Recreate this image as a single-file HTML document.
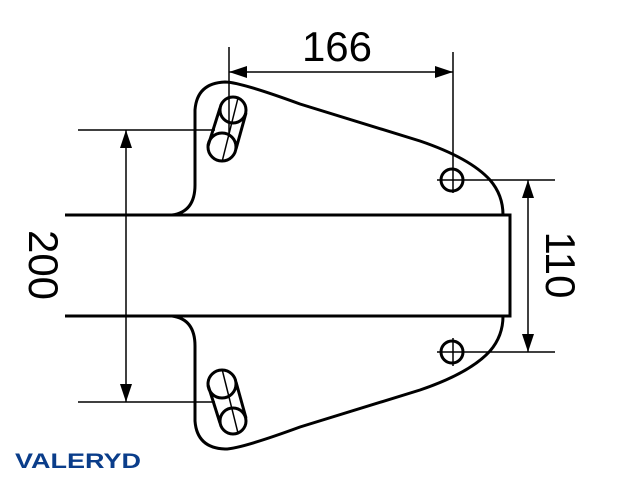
<!DOCTYPE html><html><head><style>body{margin:0;background:#fff}</style></head><body>
<svg width="640" height="480" viewBox="0 0 640 480" xmlns="http://www.w3.org/2000/svg">
<defs>
<marker id="b" viewBox="0 0 18 12" markerWidth="18" markerHeight="12" refX="18" refY="6" orient="auto-start-reverse" markerUnits="userSpaceOnUse"><path d="M0,0 L18,6 L0,12z" fill="#000"/></marker></defs>
<g fill="none" stroke="#000" stroke-width="3">
<path d="M172,215 Q195,212 195,185 L195,110 Q197,83 225,82 Q240,82 300,104 L420,141 Q470,158 490,180 Q503,195 503,215"/>
<path d="M172,316 Q195,319 195,346 L195,421 Q197,448 225,449 Q240,449 300,427 L420,390 Q470,373 490,351 Q503,336 503,316"/>
<path d="M65,215 L510,215 L510,316 L65,316"/>
<circle cx="233" cy="110" r="13"/><circle cx="222" cy="147" r="14"/>
<line x1="220" y1="108" x2="208" y2="146"/><line x1="246" y1="113" x2="236" y2="149"/>
<circle cx="222" cy="384" r="14"/><circle cx="233" cy="421" r="13"/>
<line x1="208" y1="385" x2="220" y2="423"/><line x1="236" y1="382" x2="246" y2="418"/>
<circle cx="452" cy="180" r="11"/><circle cx="452" cy="352" r="11"/>
</g>
<g stroke="#000" stroke-width="1.5" fill="none">
<line x1="238" y1="98" x2="222" y2="162"/><line x1="222" y1="369" x2="238" y2="433"/>
<line x1="229" y1="47" x2="229" y2="135"/><line x1="453" y1="52" x2="453" y2="193"/>
<line x1="437" y1="180" x2="555" y2="180"/><line x1="437" y1="352" x2="555" y2="352"/>
<line x1="453" y1="338" x2="453" y2="366"/>
<line x1="78" y1="130" x2="215" y2="130"/><line x1="78" y1="402" x2="215" y2="402"/>
<line x1="229" y1="72" x2="453" y2="72" marker-start="url(#b)" marker-end="url(#b)"/>
<line x1="126" y1="130" x2="126" y2="402" marker-start="url(#b)" marker-end="url(#b)"/>
<line x1="528" y1="180" x2="528" y2="352" marker-start="url(#b)" marker-end="url(#b)"/>
</g>
<g font-family="Liberation Sans, sans-serif" font-size="42" fill="#000" text-anchor="middle">
<text x="337" y="61">166</text>
<text transform="translate(29,265) rotate(90)">200</text>
<text transform="translate(546,265) rotate(90)">110</text>
</g>
<text x="15" y="468" font-family="Liberation Sans, sans-serif" font-weight="bold" font-size="21" fill="#0a3d8a" textLength="126" lengthAdjust="spacingAndGlyphs">VALERYD</text>
</svg>
</body></html>
